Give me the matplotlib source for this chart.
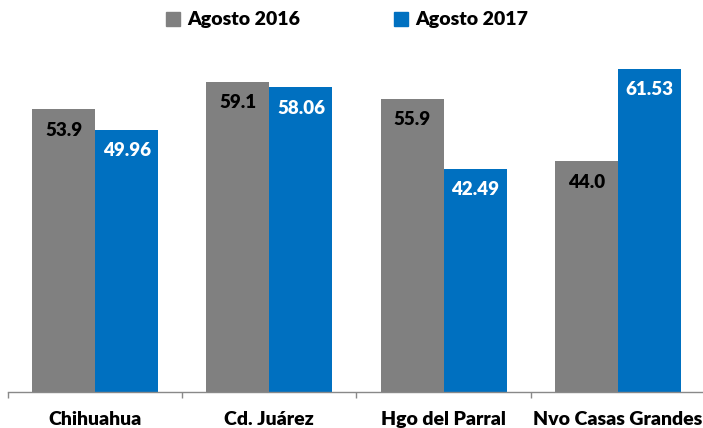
import matplotlib.pyplot as plt
import numpy as np
from matplotlib.patches import Patch

# Chart data
cities = ['Chihuahua', 'Cd. Juárez', 'Hgo del Parral', 'Nvo Casas Grandes']
agosto_2016 = [53.9, 59.1, 55.9, 44.0]
agosto_2017 = [49.96, 58.06, 42.49, 61.53]
labels_2016 = ['53.9', '59.1', '55.9', '44.0']
labels_2017 = ['49.96', '58.06', '42.49', '61.53']

gray = '#808080'
blue = '#0070C0'
font = ['Lato', 'DejaVu Sans']
weight = 'heavy'

fig = plt.figure(figsize=(7.03, 4.28), dpi=100)
ax = fig.add_axes([8 / 703, 36 / 428, 697 / 703, 367.5 / 428])

x = np.arange(len(cities))
w = 0.362
bars1 = ax.bar(x - w / 2, agosto_2016, w, color=gray)
bars2 = ax.bar(x + w / 2, agosto_2017, w, color=blue)

# value labels inside the top of each bar
for rect, txt in zip(bars1, labels_2016):
    ax.text(rect.get_x() + rect.get_width() / 2, rect.get_height() - 4.0, txt,
            ha='center', va='center', fontsize=13.5, fontweight=weight,
            color='black', family=font)
for rect, txt in zip(bars2, labels_2017):
    ax.text(rect.get_x() + rect.get_width() / 2, rect.get_height() - 4.0, txt,
            ha='center', va='center', fontsize=13.5, fontweight=weight,
            color='white', family=font)

ax.set_xlim(-0.5, len(cities) - 0.5)
ax.set_ylim(0, 70)
ax.set_yticks([])
for s in ['top', 'right', 'left']:
    ax.spines[s].set_visible(False)
ax.spines['bottom'].set_color('#898989')
ax.spines['bottom'].set_linewidth(1)

# category boundaries as tick marks, names centred below
ax.set_xticks(np.arange(-0.5, len(cities), 1.0))
ax.set_xticklabels([])
ax.tick_params(axis='x', which='major', length=4, color='#898989', width=1)
ax.set_xticks(x, minor=True)
ax.set_xticklabels(cities, minor=True, fontsize=14, fontweight=weight, family=font)
ax.tick_params(axis='x', which='minor', length=0, pad=14)

handles = [Patch(color=gray, label='Agosto 2016'), Patch(color=blue, label='Agosto 2017')]
fig.legend(handles=handles, loc='center', bbox_to_anchor=(347 / 703, 1 - 20 / 428),
           ncol=2, frameon=False, handlelength=0.72, handleheight=0.72,
           handletextpad=0.4, columnspacing=4.8,
           prop={'family': font, 'weight': weight, 'size': 14})

fig.savefig('out.png', dpi=100)
